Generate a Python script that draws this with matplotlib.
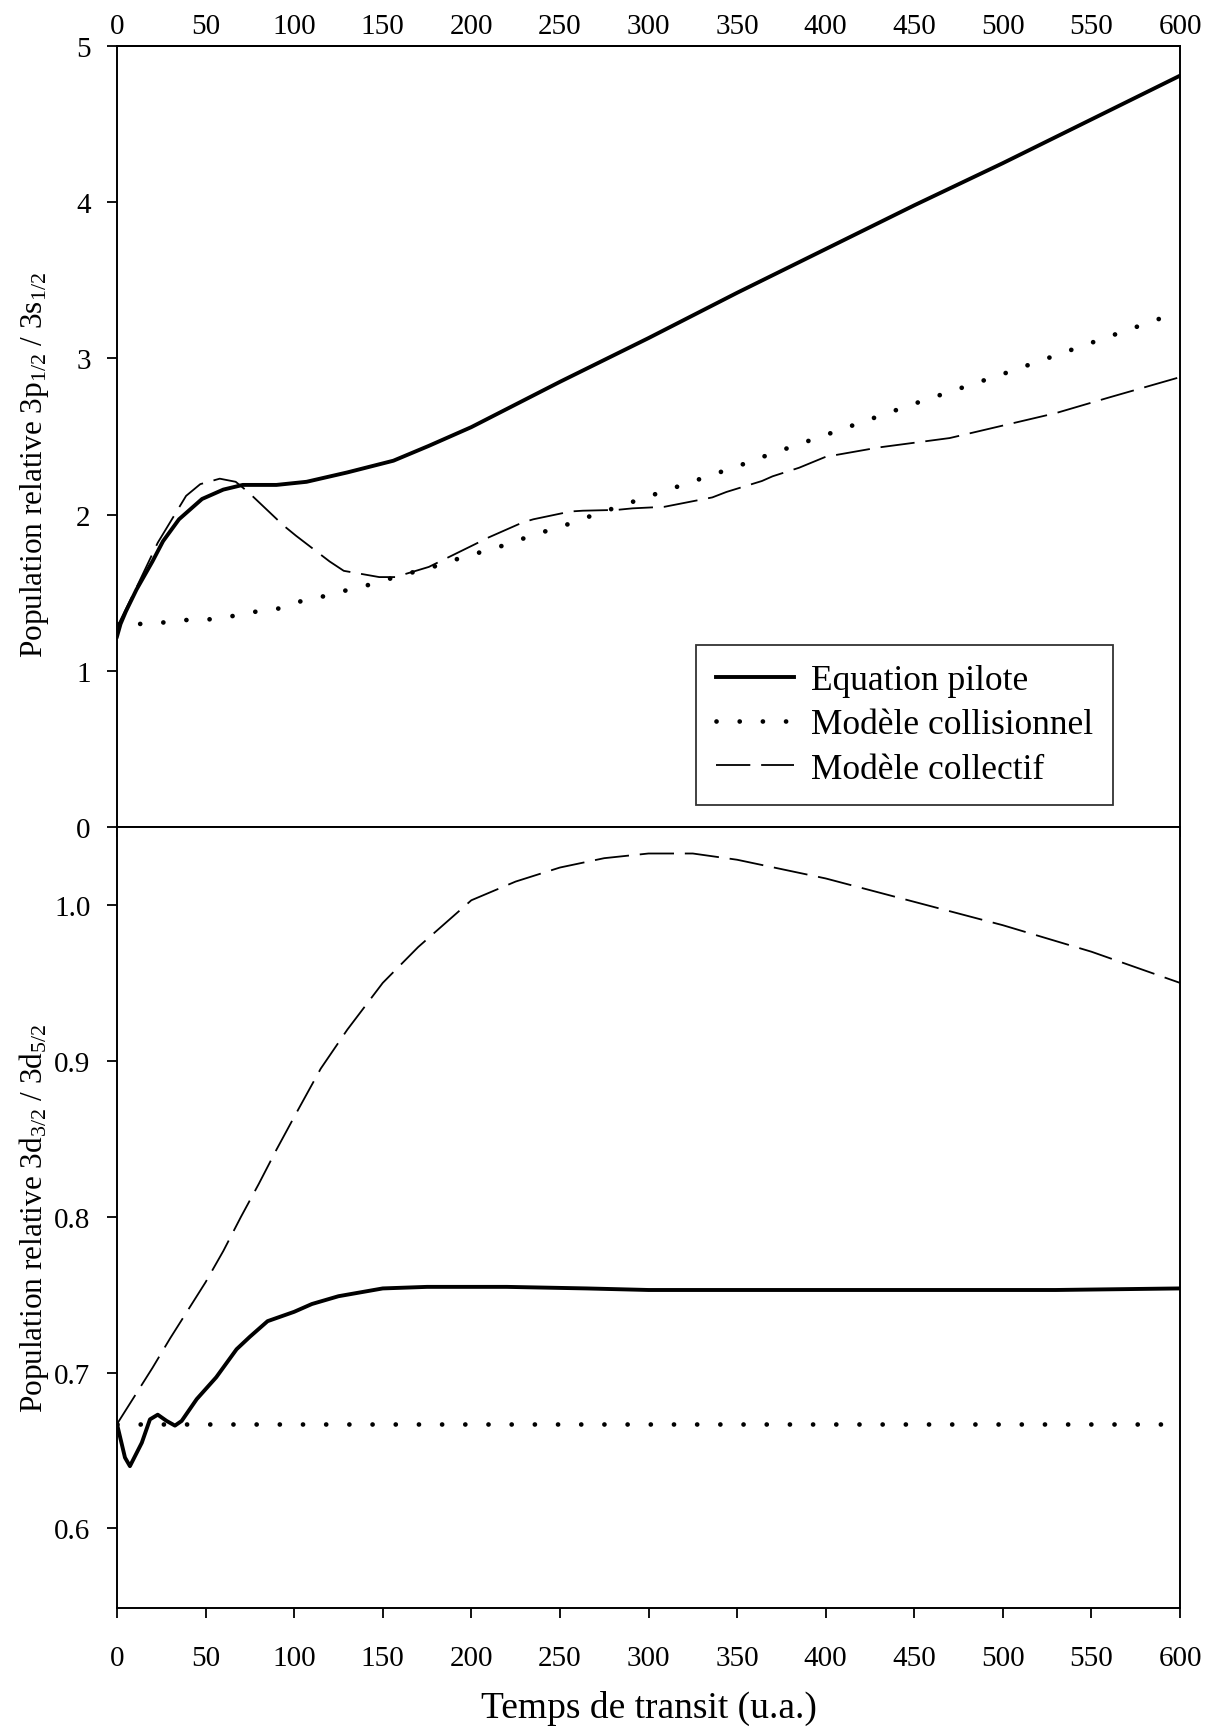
import matplotlib
matplotlib.use("Agg")
import matplotlib.pyplot as plt
import numpy as np

plt.rcParams['font.family'] = ['Liberation Serif', 'DejaVu Serif']
plt.rcParams['mathtext.fontset'] = 'custom'
plt.rcParams['mathtext.rm'] = 'Liberation Serif'
plt.rcParams['mathtext.it'] = 'Liberation Serif:italic'

# ---------------- data ----------------
# Top panel: 3p1/2 / 3s1/2
top_pilote_x = [0, 2, 5, 11, 20, 26, 35, 48, 60, 71, 90, 107, 130, 156, 176, 200,
                250, 300, 350, 400, 450, 500, 550, 600]
top_pilote_y = [1.22, 1.30, 1.38, 1.52, 1.70, 1.83, 1.97, 2.10, 2.16, 2.19, 2.19, 2.21,
                2.27, 2.345, 2.44, 2.56, 2.85, 3.13, 3.42, 3.70, 3.98, 4.25, 4.53, 4.81]

top_collis_x = [0, 13, 27, 39, 53, 65, 79, 92, 105, 118, 131, 144, 157, 170, 183, 197,
                209, 223, 236, 249, 262, 275, 288, 301, 314, 327, 340, 354, 367, 400,
                450, 500, 550, 600]
top_collis_y = [1.30, 1.30, 1.31, 1.325, 1.33, 1.35, 1.38, 1.40, 1.45, 1.48, 1.52, 1.555,
                1.60, 1.64, 1.68, 1.735, 1.77, 1.82, 1.875, 1.915, 1.97, 2.02, 2.07, 2.12,
                2.17, 2.22, 2.27, 2.325, 2.38, 2.51, 2.71, 2.90, 3.10, 3.30]

top_collec_x = [0, 10, 23, 39, 47, 58, 67, 74, 94, 101, 120, 128, 148, 157, 176, 202,
                209, 229, 235, 256, 263, 282, 291, 309, 318, 336, 344, 364, 370, 385,
                400, 430, 470, 500, 530, 560, 600]
top_collec_y = [1.28, 1.51, 1.82, 2.12, 2.195, 2.23, 2.21, 2.145, 1.93, 1.865, 1.70, 1.64,
                1.60, 1.60, 1.665, 1.81, 1.85, 1.95, 1.97, 2.02, 2.025, 2.03, 2.04, 2.05,
                2.07, 2.11, 2.145, 2.215, 2.245, 2.30, 2.37, 2.43, 2.49, 2.57, 2.65, 2.75,
                2.88]

# Bottom panel: 3d3/2 / 3d5/2
bot_pilote_x = [0, 4.5, 7.3, 14, 18.6, 23, 28, 32.7, 36.5, 45, 56, 67.5, 75, 85, 100,
                110, 125, 140, 150, 175, 220, 265, 300, 530, 600]
bot_pilote_y = [0.667, 0.6455, 0.640, 0.655, 0.670, 0.673, 0.669, 0.666, 0.669, 0.683,
                0.697, 0.715, 0.723, 0.733, 0.739, 0.744, 0.749, 0.752, 0.754, 0.755,
                0.755, 0.754, 0.753, 0.753, 0.754]

bot_collis_x = [0, 600]
bot_collis_y = [0.667, 0.667]

bot_collec_x = [0, 10, 20, 30, 40, 50, 60, 70, 80, 90, 100, 115, 130, 150, 170, 200,
                225, 250, 275, 300, 325, 350, 400, 450, 500, 550, 600]
bot_collec_y = [0.667, 0.685, 0.703, 0.722, 0.740, 0.758, 0.778, 0.800, 0.821, 0.843,
                0.864, 0.895, 0.920, 0.950, 0.973, 1.003, 1.015, 1.024, 1.030, 1.033,
                1.033, 1.029, 1.017, 1.002, 0.987, 0.970, 0.950]

labels = ["Equation pilote", "Modèle collisionnel", "Modèle collectif"]
xticks = list(range(0, 601, 50))

# ---------------- figure ----------------
W, H = 1218, 1731
fig = plt.figure(figsize=(W / 100, H / 100), dpi=100)
L, R = 117 / W, 1180 / W
y_top, y_mid, y_bot = 1 - 47 / H, 1 - 828 / H, 1 - 1609 / H
ax1 = fig.add_axes([L, y_mid, R - L, y_top - y_mid])
ax2 = fig.add_axes([L, y_bot, R - L, y_mid - y_bot])

solid_kw = dict(color='black', lw=2.8, solid_joinstyle='round')
dot_kw = dict(color='black', lw=3.4, linestyle=(0, (0.01, 4.9)), dash_capstyle='round')
dash_kw = dict(color='black', lw=1.3, linestyle=(0, (19, 6)))

ax1.plot(top_pilote_x, top_pilote_y, label=labels[0], **solid_kw)
ax1.plot(top_collis_x, top_collis_y, label=labels[1], **dot_kw)
ax1.plot(top_collec_x, top_collec_y, label=labels[2], **dash_kw)

ax2.plot(bot_pilote_x, bot_pilote_y, **solid_kw)
ax2.plot(bot_collis_x, bot_collis_y, **dot_kw)
ax2.plot(bot_collec_x, bot_collec_y, **dash_kw)

for ax in (ax1, ax2):
    ax.set_xlim(0, 600)
    ax.set_xticks(xticks)
    for s in ax.spines.values():
        s.set_linewidth(1.4)
    ax.tick_params(axis='y', direction='out', length=7, width=1.3, labelsize=21, pad=12)

ax1.set_ylim(0, 5)
ax1.set_yticks([0, 1, 2, 3, 4, 5])
ax1.tick_params(axis='x', bottom=True, labelbottom=False, top=False, labeltop=False,
                direction='out', length=7, width=1.3)
# top axis: labels only, no tick marks
sec = ax1.secondary_xaxis('top')
sec.set_xticks(xticks)
sec.tick_params(axis='x', length=0, labelsize=21, pad=5)
sec.spines['top'].set_linewidth(1.4)

ax2.set_ylim(0.549, 1.05)
ax2.set_yticks([0.6, 0.7, 0.8, 0.9, 1.0])
ax2.set_yticklabels(['0.6', '0.7', '0.8', '0.9', '1.0'])
ax2.tick_params(axis='x', direction='out', length=7, width=1.3, labelsize=21, pad=20)
ax2.set_xlabel("Temps de transit (u.a.)", fontsize=27, labelpad=13)

ax1.set_ylabel(r"Population relative 3p$_{\mathrm{1/2}}$ / 3s$_{\mathrm{1/2}}$", fontsize=22.5)
ax2.set_ylabel(r"Population relative 3d$_{\mathrm{3/2}}$ / 3d$_{\mathrm{5/2}}$", fontsize=22.5)
ax1.yaxis.set_label_coords(-0.062, 0.465)
ax2.yaxis.set_label_coords(-0.062, 0.5)

leg = ax1.legend(loc='lower right', bbox_to_anchor=(0.937, 0.028), fontsize=25.5,
                 frameon=True, fancybox=False, edgecolor='black', handlelength=2.2,
                 handletextpad=0.5, borderpad=0.55, labelspacing=0.32, borderaxespad=0)
leg.get_frame().set_linewidth(1.3)

fig.savefig("out.png", dpi=100)
